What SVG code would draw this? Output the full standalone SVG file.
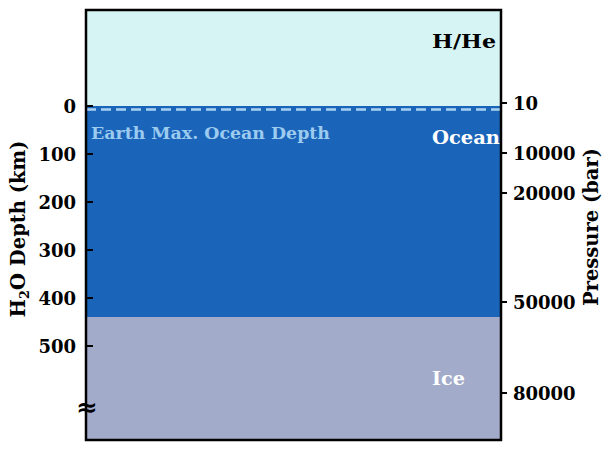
<svg xmlns="http://www.w3.org/2000/svg" width="611" height="452" viewBox="0 0 611 452">
<style>
text{font-family:"DejaVu Serif","Liberation Serif",serif;font-weight:bold;}
.tl{font-size:18px;fill:#000;text-anchor:end;}
.tr{font-size:18px;fill:#000;text-anchor:start;}
.tick{stroke:#000;stroke-width:2;}
.lay{font-size:19px;}
.ax{font-size:19.5px;fill:#000;text-anchor:middle;}
</style>
<rect width="611" height="452" fill="#fff"/>
<g id="hhe"><rect x="86" y="10" width="415" height="96" fill="#d6f4f3"/><text class="lay" x="432" y="48" fill="#000" textLength="64" lengthAdjust="spacingAndGlyphs">H/He</text></g>
<g id="ocean"><rect x="86" y="106" width="415" height="211" fill="#1a64b9"/><text class="lay" x="432" y="144" fill="#fff" textLength="68" lengthAdjust="spacingAndGlyphs">Ocean</text></g>
<g id="ice"><rect x="86" y="317" width="415" height="123" fill="#a2abca"/><text class="lay" x="432" y="385" fill="#fff" textLength="33" lengthAdjust="spacingAndGlyphs">Ice</text></g>
<g id="earth"><line x1="86" y1="109.5" x2="501" y2="109.5" stroke="#a9d2f2" stroke-width="2.5" stroke-dasharray="10,5"/><text x="91" y="139" font-size="16" fill="#9ccbef" textLength="239" lengthAdjust="spacingAndGlyphs">Earth Max. Ocean Depth</text></g>
<rect x="86" y="10" width="415" height="430" fill="none" stroke="#000" stroke-width="2.5"/>
<g id="left-axis">
<line class="tick" x1="86" y1="106" x2="93" y2="106"/><text class="tl" x="76" y="113">0</text>
<line class="tick" x1="86" y1="154" x2="93" y2="154"/><text class="tl" x="76" y="161">100</text>
<line class="tick" x1="86" y1="202" x2="93" y2="202"/><text class="tl" x="76" y="209">200</text>
<line class="tick" x1="86" y1="250" x2="93" y2="250"/><text class="tl" x="76" y="257">300</text>
<line class="tick" x1="86" y1="298" x2="93" y2="298"/><text class="tl" x="76" y="305">400</text>
<line class="tick" x1="86" y1="346" x2="93" y2="346"/><text class="tl" x="76" y="353">500</text>
<text x="87" y="416" font-size="26" text-anchor="middle" fill="#000">≈</text>
<text class="ax" transform="translate(25,229) rotate(-90)">H<tspan font-size="13" dy="4">2</tspan><tspan dy="-4">O Depth (km)</tspan></text>
</g>
<g id="right-axis">
<line class="tick" x1="501" y1="103" x2="507" y2="103"/><text class="tr" x="513" y="110">10</text>
<line class="tick" x1="501" y1="153" x2="507" y2="153"/><text class="tr" x="513" y="160">10000</text>
<line class="tick" x1="501" y1="193" x2="507" y2="193"/><text class="tr" x="513" y="200">20000</text>
<line class="tick" x1="501" y1="302" x2="507" y2="302"/><text class="tr" x="513" y="309">50000</text>
<line class="tick" x1="501" y1="393" x2="507" y2="393"/><text class="tr" x="513" y="400">80000</text>
<text class="ax" transform="translate(598,227) rotate(-90)">Pressure (bar)</text>
</g>
</svg>
